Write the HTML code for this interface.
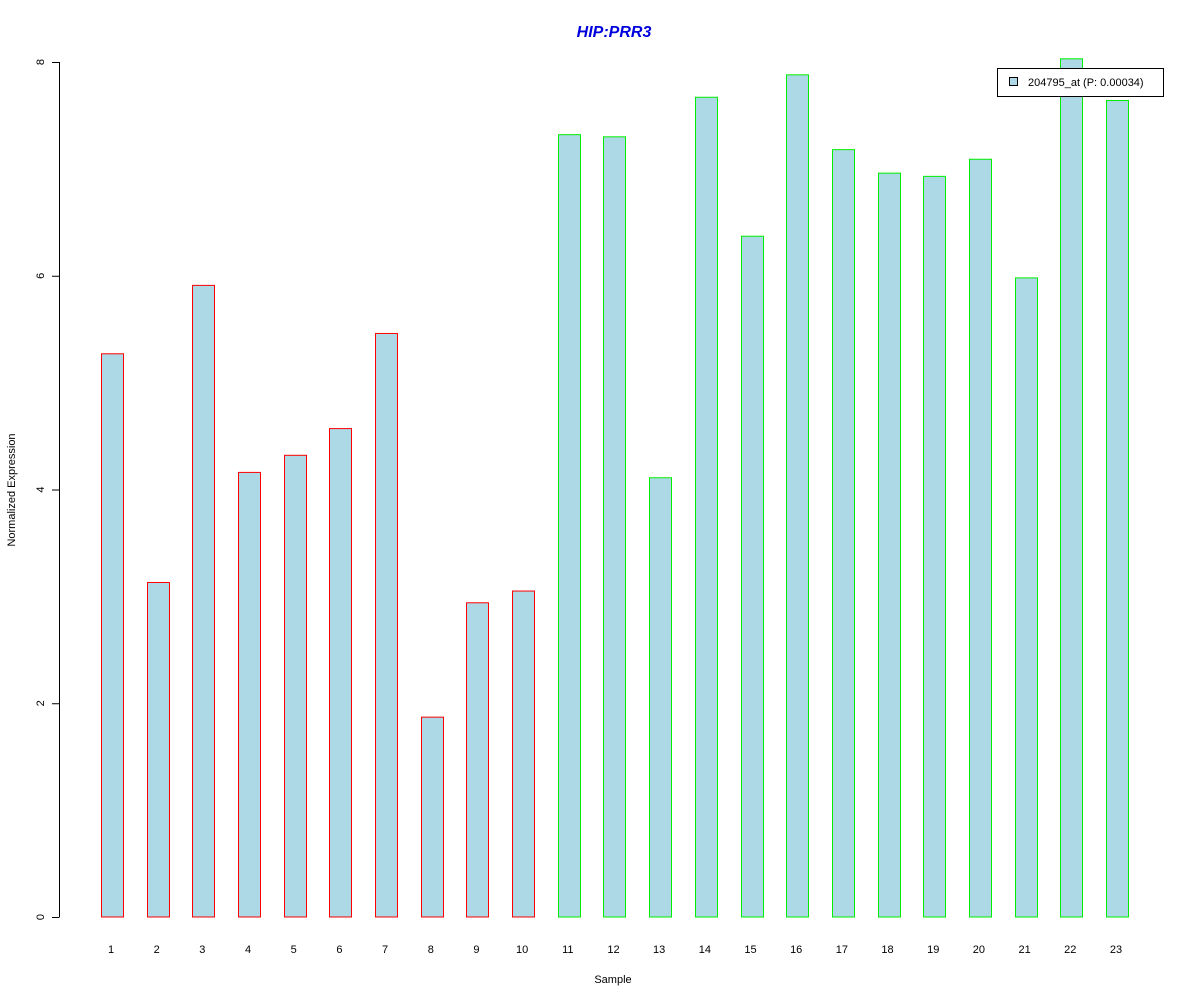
<!DOCTYPE html>
<html><head><meta charset="utf-8">
<style>
body{margin:0;background:#fff;}
svg{display:block;font-family:"Liberation Sans",Arial,sans-serif;}
</style></head>
<body>
<svg id="chart" width="1200" height="1000" xmlns="http://www.w3.org/2000/svg">
<rect width="1200" height="1000" fill="#fff"/>
<text x="614" y="37" text-anchor="middle" font-size="16" font-weight="bold" font-style="italic" fill="#0000dd">HIP:PRR3</text>
<text transform="translate(15,490) rotate(-90)" text-anchor="middle" font-size="11">Normalized Expression</text>
<text x="613" y="983" text-anchor="middle" font-size="11">Sample</text>
<g id="yaxis"></g>
<g id="bars"></g>
<g id="xlabels"></g>
<g>
<rect x="997.5" y="68.5" width="166" height="28" fill="#fff" stroke="#000"/>
<rect x="1009.5" y="77.5" width="8" height="8" fill="#add8e6" stroke="#000"/>
<text x="1028" y="86" font-size="11">204795_at (P: 0.00034)</text>
</g>
</svg>
<script>
const categories = ["1","2","3","4","5","6","7","8","9","10","11","12","13","14","15","16","17","18","19","20","21","22","23"];
const values = [5.27,3.13,5.91,4.16,4.32,4.57,5.46,1.87,2.94,3.05,7.32,7.30,4.11,7.67,6.37,7.88,7.18,6.96,6.93,7.09,5.98,8.03,7.64];
const groups = ["a","a","a","a","a","a","a","a","a","a","b","b","b","b","b","b","b","b","b","b","b","b","b"];
const yTicks = [0,2,4,6,8];
const NS="http://www.w3.org/2000/svg";
const y = v => 917 - v*106.875;
const x = i => 112 + i*45.68;
const yaxis=document.getElementById('yaxis');
let ln=document.createElementNS(NS,'line');
ln.setAttribute('x1',59.5);ln.setAttribute('x2',59.5);ln.setAttribute('y1',y(0));ln.setAttribute('y2',y(8));ln.setAttribute('stroke','#000');
yaxis.appendChild(ln);
yTicks.forEach(t=>{
  const tk=document.createElementNS(NS,'line');
  
  
  tk.setAttribute('x1',52);tk.setAttribute('x2',59.5);tk.setAttribute('y1',y(t)+0.5);tk.setAttribute('y2',y(t)+0.5);tk.setAttribute('stroke','#000');
  yaxis.appendChild(tk);
  const tx=document.createElementNS(NS,'text');
  
  
  tx.setAttribute('transform',`translate(44,${y(t)}) rotate(-90)`);
  tx.setAttribute('text-anchor','middle');tx.setAttribute('font-size','11');
  tx.textContent=t;
  yaxis.appendChild(tx);
});
const bars=document.getElementById('bars'), xl=document.getElementById('xlabels');
values.forEach((v,i)=>{
  const r=document.createElementNS(NS,'rect');
  
  
  r.setAttribute('x',Math.round(x(i)-11)+0.5);r.setAttribute('width',22);
  r.setAttribute('y',y(v));r.setAttribute('height',y(0)-y(v));
  r.setAttribute('fill','#add8e6');r.setAttribute('stroke',groups[i]==='a'?'#ff0000':'#00ee00');
  bars.appendChild(r);
  const t=document.createElementNS(NS,'text');
  
  
  t.setAttribute('x',x(i)-1);t.setAttribute('y',953);t.setAttribute('text-anchor','middle');t.setAttribute('font-size','11');
  t.textContent=categories[i];
  xl.appendChild(t);
});
</script>
</body></html>
